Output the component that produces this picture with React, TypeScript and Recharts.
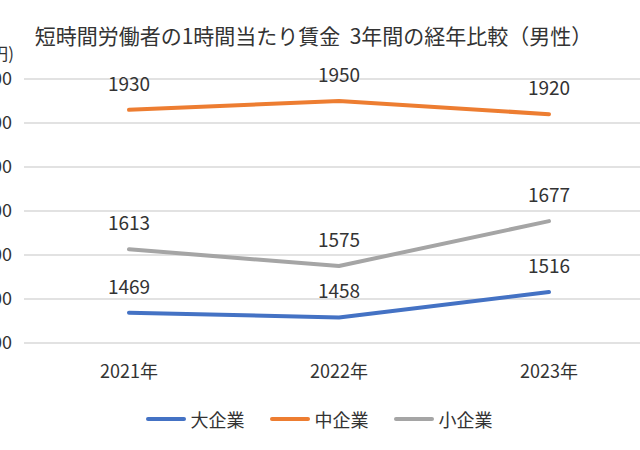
import { LineChart, Line, XAxis, YAxis, CartesianGrid, Legend, LabelList } from "recharts";

const years = ["2021年", "2022年", "2023年"];
const large = [1469, 1458, 1516];
const medium = [1930, 1950, 1920];
const small = [1613, 1575, 1677];
const yTicks = [1400, 1500, 1600, 1700, 1800, 1900, 2000];

const series = [
  { key: "large", name: "大企業", color: "#4472C4" },
  { key: "medium", name: "中企業", color: "#ED7D31" },
  { key: "small", name: "小企業", color: "#A5A5A5" },
];

const data = years.map((y, i) => ({ name: y, large: large[i], medium: medium[i], small: small[i] }));

const FONT = '"Noto Sans CJK JP", "Noto Sans", sans-serif';
const textColor = "#333";

const order = series.map((s) => s.name);

const LegendContent = ({ payload }: any) => {
  const items = [...(payload || [])].sort((a: any, b: any) => order.indexOf(a.value) - order.indexOf(b.value));
  return (
    <div
      style={{
        display: "flex",
        justifyContent: "center",
        gap: 25,
        paddingLeft: 64,
        fontFamily: FONT,
        fontSize: 18,
        color: textColor,
      }}
    >
      {items.map((p: any) => (
        <div key={p.value} style={{ display: "flex", alignItems: "center", gap: 5 }}>
          <div style={{ width: 40, height: 4, borderRadius: 2, background: p.color }} />
          <span>{p.value}</span>
        </div>
      ))}
    </div>
  );
};

export default function App() {
  return (
    <div
      style={{
        position: "absolute",
        left: 0,
        top: 0,
        width: 640,
        height: 450,
        overflow: "hidden",
        background: "#fff",
        fontFamily: FONT,
      }}
    >
      <div
        style={{
          position: "absolute",
          top: 20,
          left: 0,
          width: 627,
          textAlign: "center",
          fontSize: 21,
          color: textColor,
          whiteSpace: "pre",
        }}
      >
        {"短時間労働者の1時間当たり賃金  3年間の経年比較（男性）"}
      </div>
      <div style={{ position: "absolute", top: 40, left: -48, width: 62, textAlign: "right", fontSize: 17, color: textColor }}>
        (円)
      </div>
      <div style={{ position: "absolute", left: -80, top: 0 }}>
        <LineChart width={740} height={450} data={data} margin={{ top: 79, right: 6, bottom: 18, left: 0 }}>
          <CartesianGrid vertical={false} stroke="#D9D9D9" strokeWidth={1.3} />
          <XAxis
            dataKey="name"
            padding={{ left: 105, right: 105 }}
            axisLine={false}
            tickLine={false}
            tickMargin={16}
            height={63}
            tick={{ fontSize: 18, fill: textColor, fontFamily: FONT }}
          />
          <YAxis
            domain={[1400, 2000]}
            ticks={yTicks}
            width={104}
            axisLine={false}
            tickLine={false}
            tickMargin={6}
            tickFormatter={(v: number) => v.toLocaleString()}
            tick={{ fontSize: 18, fill: textColor, fontFamily: FONT }}
          />
          <Legend verticalAlign="bottom" content={<LegendContent />} />
          {series.map((s) => (
            <Line
              key={s.key}
              type="linear"
              dataKey={s.key}
              name={s.name}
              stroke={s.color}
              strokeWidth={4}
              strokeLinecap="round"
              strokeLinejoin="round"
              dot={false}
              isAnimationActive={false}
            >
              <LabelList
                dataKey={s.key}
                position="top"
                offset={19}
                style={{ fontSize: 19, fill: textColor, fontFamily: FONT }}
              />
            </Line>
          ))}
        </LineChart>
      </div>
    </div>
  );
}
